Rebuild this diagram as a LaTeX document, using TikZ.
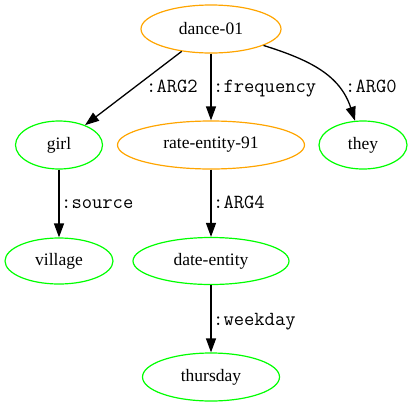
\documentclass[tikz,border=0pt]{standalone}
\usepackage{fontspec}
\setmainfont{Liberation Serif}
\usetikzlibrary{shapes.geometric,arrows.meta}
\definecolor{gvorange}{RGB}{255,165,0}
\definecolor{gvgreen}{RGB}{0,255,0}
\tikzset{
  amrnode/.style={ellipse, draw, line width=1.2pt, inner sep=0pt, minimum height=48pt,
    font=\fontsize{17.5}{20}\selectfont},
  concept/.style={amrnode, draw=gvorange},
  leaf/.style={amrnode, draw=gvgreen},
  edge/.style={draw=black, line width=1.3pt, -{Triangle[length=14pt,width=10pt]}},
  elabel/.style={anchor=base west, inner sep=0pt, font=\ttfamily\fontsize{20}{22}\selectfont}
}
\begin{document}
\begin{tikzpicture}[x=1pt,y=-1pt]
\useasboundingbox (0,0) rectangle (412,407);
\node[concept, minimum width=140pt] (dance) at (211,29) {dance-01};
\node[leaf, minimum width=87pt] (girl) at (59,145) {girl};
\node[concept, minimum width=187pt] (rate) at (211,145) {rate-entity-91};
\node[leaf, minimum width=88pt] (they) at (363,145) {they};
\node[leaf, minimum width=108pt, minimum height=46pt] (village) at (59,261) {village};
\node[leaf, minimum width=156pt, minimum height=47pt] (date) at (211,261) {date-entity};
\node[leaf, minimum width=137pt] (thursday) at (211,377) {thursday};

\draw[edge] (dance) -- (girl);
\draw[edge] (dance) -- (rate);
\draw[edge] (dance) .. controls (310,60) and (340,75) .. (they);
\draw[edge] (girl) -- (village);
\draw[edge] (rate) -- (date);
\draw[edge] (date) -- (thursday);

\node[elabel] (l1) at (146,92) {:ARG2};
\node[elabel] (l2) at (213,92) {:frequency};
\node[elabel] (l3) at (345,92) {:ARG0};
\node[elabel] (l4) at (61,208) {:source};
\node[elabel] (l5) at (213,208) {:ARG4};
\node[elabel] (l6) at (213,325) {:weekday};
\end{tikzpicture}
\end{document}
